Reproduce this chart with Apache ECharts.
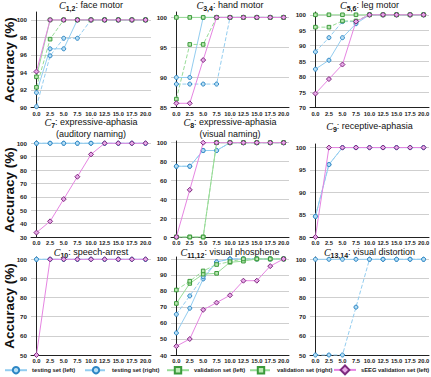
<!DOCTYPE html>
<html>
<head>
<meta charset="utf-8">
<script src="https://cdn.jsdelivr.net/npm/echarts@6/dist/echarts.min.js"></script>
<style>html,body{margin:0;padding:0;background:#fff}#c{width:431px;height:377px}</style>
</head>
<body>
<div id="c"></div>
<script>
// x positions (amount of data, shared by all panels)
const xTicks = [0, 2.5, 5, 7.5, 10, 12.5, 15, 17.5, 20];

// C1,2 face motor
const face_testL = [91.7, 96.7, 96.7, 100, 100, 100, 100, 100, 100];
const face_testR = [90.1, 95.9, 97.9, 97.9, 100, 100, 100, 100, 100];
const face_valL  = [93.5, 100, 100, 100, 100, 100, 100, 100, 100];
const face_valR  = [92.3, 97.8, 100, 100, 100, 100, 100, 100, 100];
const face_seeg  = [94.1, 100, 100, 100, 100, 100, 100, 100, 100];

// C3,4 hand motor
const hand_testL = [90, 90, 100, 100, 100, 100, 100, 100, 100];
const hand_testR = [88.9, 88.9, 88.9, 88.9, 100, 100, 100, 100, 100];
const hand_valL  = [100, 100, 100, 100, 100, 100, 100, 100, 100];
const hand_valR  = [86.4, 95.5, 95.5, 100, 100, 100, 100, 100, 100];
const hand_seeg  = [85.7, 85.7, 92.9, 100, 100, 100, 100, 100, 100];

// C5,6 leg motor
const leg_testL = [82.4, 85.3, 92.6, 97.1, 100, 100, 100, 100, 100];
const leg_testR = [88.0, 92.6, 97.8, 97.8, 100, 100, 100, 100, 100];
const leg_valL  = [100, 100, 100, 100, 100, 100, 100, 100, 100];
const leg_valR  = [96, 96, 98, 98, 100, 100, 100, 100, 100];
const leg_seeg  = [74.5, 79.2, 83.9, 97.8, 100, 100, 100, 100, 100];

// C7 expressive-aphasia (auditory naming)
const aud_testL = [100, 100, 100, 100, 100, 100, 100, 100, 100];
const aud_testR = [100, 100, 100, 100, 100, 100, 100, 100, 100];
const aud_seeg  = [33.3, 41.7, 58.3, 75, 91.7, 100, 100, 100, 100];

// C8 expressive-aphasia (visual naming)
const vis_testL = [75, 75, 91.7, 91.7, 100, 100, 100, 100, 100];
const vis_testR = [75, 75, 91.7, 91.7, 100, 100, 100, 100, 100];
const vis_valL  = [0, 0, 0, 100, 100, 100, 100, 100, 100];
const vis_valR  = [0, 0, 0, 100, 100, 100, 100, 100, 100];
const vis_seeg  = [0, 50, 100, 100, 100, 100, 100, 100, 100];

// C9 receptive-aphasia
const rec_testL = [84.6, 96.2, 100, 100, 100, 100, 100, 100, 100];
const rec_testR = [84.6, 96.2, 100, 100, 100, 100, 100, 100, 100];
const rec_seeg  = [80, 100, 100, 100, 100, 100, 100, 100, 100];

// C10 speech-arrest
const spa_testL = [100, 100, 100, 100, 100, 100, 100, 100, 100];
const spa_testR = [100, 100, 100, 100, 100, 100, 100, 100, 100];
const spa_seeg  = [50, 100, 100, 100, 100, 100, 100, 100, 100];

// C11,12 visual phosphene
const pho_testL = [53.8, 69.2, 87.5, 98.1, 100, 100, 100, 100, 100];
const pho_testR = [65.4, 76.9, 88.9, 98.1, 100, 100, 100, 100, 100];
const pho_valL  = [72.2, 84.7, 90.5, 91.0, 97.9, 98.6, 100, 100, 100];
const pho_valR  = [80.6, 86.1, 92.5, 96.5, 98.3, 100, 100, 100, 100];
const pho_seeg  = [45.5, 50, 68.2, 72.7, 77.3, 86.4, 86.4, 95.5, 100];

// C13,14 visual distortion
const dis_testL = [100, 100, 100, 100, 100, 100, 100, 100, 100];
const dis_testR = [50, 50, 50, 75, 100, 100, 100, 100, 100];

// Axis tick labels
const xLabels = ['0.0', '2.5', '5.0', '7.5', '10.0', '12.5', '15.0', '17.5', '20.0'];

// Series names (legend)
const seriesNames = ['testing set (left)', 'testing set (right)', 'validation set (left)', 'validation set (right)', 'sEEG validation set (left)'];

// Panel titles
const titleSubs = ['1,2', '3,4', '5,6', '7', '8', '9', '10', '11,12', '13,14'];
const titleTexts = [['face motor'], ['hand motor'], ['leg motor'],
  ['expressive-aphasia', '(auditory naming)'], ['expressive-aphasia', '(visual naming)'], ['receptive-aphasia'],
  ['speech-arrest'], ['visual phosphene'], ['visual distortion']];

const styles = [
  {line: '#93cdf0', dash: 'solid',  symbol: 'circle',  size: 4,   fill: '#b5def5', border: '#2d86c4'},
  {line: '#93cdf0', dash: 'dashed', symbol: 'circle',  size: 4,   fill: '#b5def5', border: '#2d86c4'},
  {line: '#98dc98', dash: 'solid',  symbol: 'rect',    size: 3.6, fill: '#bce9b4', border: '#3a9a3a'},
  {line: '#98dc98', dash: 'dashed', symbol: 'rect',    size: 3.6, fill: '#bce9b4', border: '#3a9a3a'},
  {line: '#e685e2', dash: 'solid',  symbol: 'diamond', size: 5,   fill: '#e8a8e8', border: '#7e2a7e'}
];

const panels = [
  {d: [face_testL, face_testR, face_valL, face_valR, face_seeg], min: 90, max: 100.9, iv: 2},
  {d: [hand_testL, hand_testR, hand_valL, hand_valR, hand_seeg], min: 85, max: 100.9, iv: 5},
  {d: [leg_testL, leg_testR, leg_valL, leg_valR, leg_seeg], min: 70, max: 100.9, iv: 5},
  {d: [aud_testL, aud_testR, null, null, aud_seeg], min: 30, max: 101.7, iv: 10},
  {d: [vis_testL, vis_testR, vis_valL, vis_valR, vis_seeg], min: 0, max: 101.8, iv: 20},
  {d: [rec_testL, rec_testR, null, null, rec_seeg], min: 80, max: 100.8, iv: 5},
  {d: [spa_testL, spa_testR, null, null, spa_seeg], min: 50, max: 101.2, iv: 10},
  {d: [pho_testL, pho_testR, pho_valL, pho_valR, pho_seeg], min: 40, max: 101.2, iv: 10},
  {d: [dis_testL, dis_testR, null, null, null], min: 50, max: 101.2, iv: 10}
];

const colLeft = [31, 171, 310], colWidth = [120, 118, 119];
const rowTop = [12, 141, 257], rowBottom = [107.5, 237, 355];
const rowTitleY = [0, 117, 247];

const grids = [], xAxes = [], yAxes = [], series = [], graphics = [];
const font = 'Liberation Sans';

panels.forEach((p, i) => {
  const r = Math.floor(i / 3), c = i % 3;
  let top = rowTop[r];
  if (i === 5) top = 144;
  grids.push({left: colLeft[c], top: top, width: colWidth[c], height: rowBottom[r] - top, outerBoundsMode: 'none'});
  xAxes.push({
    type: 'value', gridIndex: i, min: -1, max: 21,
    axisLine: {show: true, lineStyle: {color: '#222', width: 1}},
    axisTick: {show: false},
    splitLine: {show: false},
    axisLabel: {customValues: xTicks, formatter: v => xLabels[xTicks.indexOf(v)], fontSize: 5.8, fontWeight: 'bold', color: '#222', fontFamily: font, margin: 3}
  });
  yAxes.push({
    type: 'value', gridIndex: i, min: p.min, max: p.max, interval: p.iv,
    axisLine: {show: true, lineStyle: {color: '#222', width: 1}},
    axisTick: {show: false},
    splitLine: {show: true, showMaxLine: false, lineStyle: {color: '#cfcfcf', width: 1}},
    axisLabel: {showMaxLabel: false, fontSize: 6.2, fontWeight: 'bold', color: '#222', fontFamily: font, margin: 4,
      formatter: v => (v > 100 ? '' : String(v))}
  });
  p.d.forEach((arr, k) => {
    if (!arr) return;
    const s = styles[k];
    series.push({
      type: 'line', name: seriesNames[k], xAxisIndex: i, yAxisIndex: i,
      data: xTicks.map((x, j) => [x, arr[j]]),
      symbol: s.symbol, symbolSize: s.size, showSymbol: true, clip: false,
      lineStyle: {color: s.line, width: 1, type: s.dash},
      itemStyle: {color: s.fill, borderColor: s.border, borderWidth: 1},
      emphasis: {disabled: true}, animation: false, z: 2 + k
    });
  });
  // title
  const cx = colLeft[c] + colWidth[c] / 2;
  const lines = titleTexts[i];
  let txt = '{c|C}{s|' + titleSubs[i] + '}{t|: ' + lines[0] + '}';
  for (let m = 1; m < lines.length; m++) txt += '\n{t|' + lines[m] + '}';
  let ty = rowTitleY[r];
  if (i === 5) ty = 121;
  graphics.push({
    type: 'text', x: cx, y: ty,
    style: {
      text: txt, align: 'center', verticalAlign: 'top',
      rich: {
        c: {fontFamily: 'Liberation Serif', fontStyle: 'italic', fontSize: 10, lineHeight: 12, verticalAlign: 'top', fill: '#111'},
        s: {fontFamily: 'Liberation Sans', fontWeight: 'bold', fontSize: 7, lineHeight: 7, verticalAlign: 'bottom', fill: '#111'},
        t: {fontFamily: font, fontSize: 9, lineHeight: 12, verticalAlign: 'top', fill: '#111'}
      }
    }
  });
});

// Row y-axis labels
const rowLabelY = [60, 190, 306];
rowLabelY.forEach(y => {
  graphics.push({
    type: 'text', x: 9, y: y, rotation: Math.PI / 2,
    style: {text: 'Accuracy (%)', align: 'center', verticalAlign: 'middle', fontFamily: font, fontWeight: 'bold', fontSize: 13.5, fill: '#111'}
  });
});

// Legends
const legendLeft = [4, 84, 166, 249, 333];
const legendIconH = [8, 8, 8, 8, 11];
const legends = seriesNames.map((n, k) => ({
  data: [n], left: legendLeft[k], top: 370 - legendIconH[k] / 2, orient: 'horizontal',
  itemWidth: 22, itemHeight: legendIconH[k], itemGap: 5, selectedMode: false, padding: 0,
  textStyle: {fontSize: 5.8, fontWeight: 'bold', color: '#222', fontFamily: font}
}));

const chart = echarts.init(document.getElementById('c'), null, {renderer: 'svg'});
chart.setOption({
  animation: false,
  backgroundColor: '#fff',
  grid: grids, xAxis: xAxes, yAxis: yAxes, series: series,
  legend: legends, graphic: graphics, tooltip: {show: false}
});
</script>
</body>
</html>
